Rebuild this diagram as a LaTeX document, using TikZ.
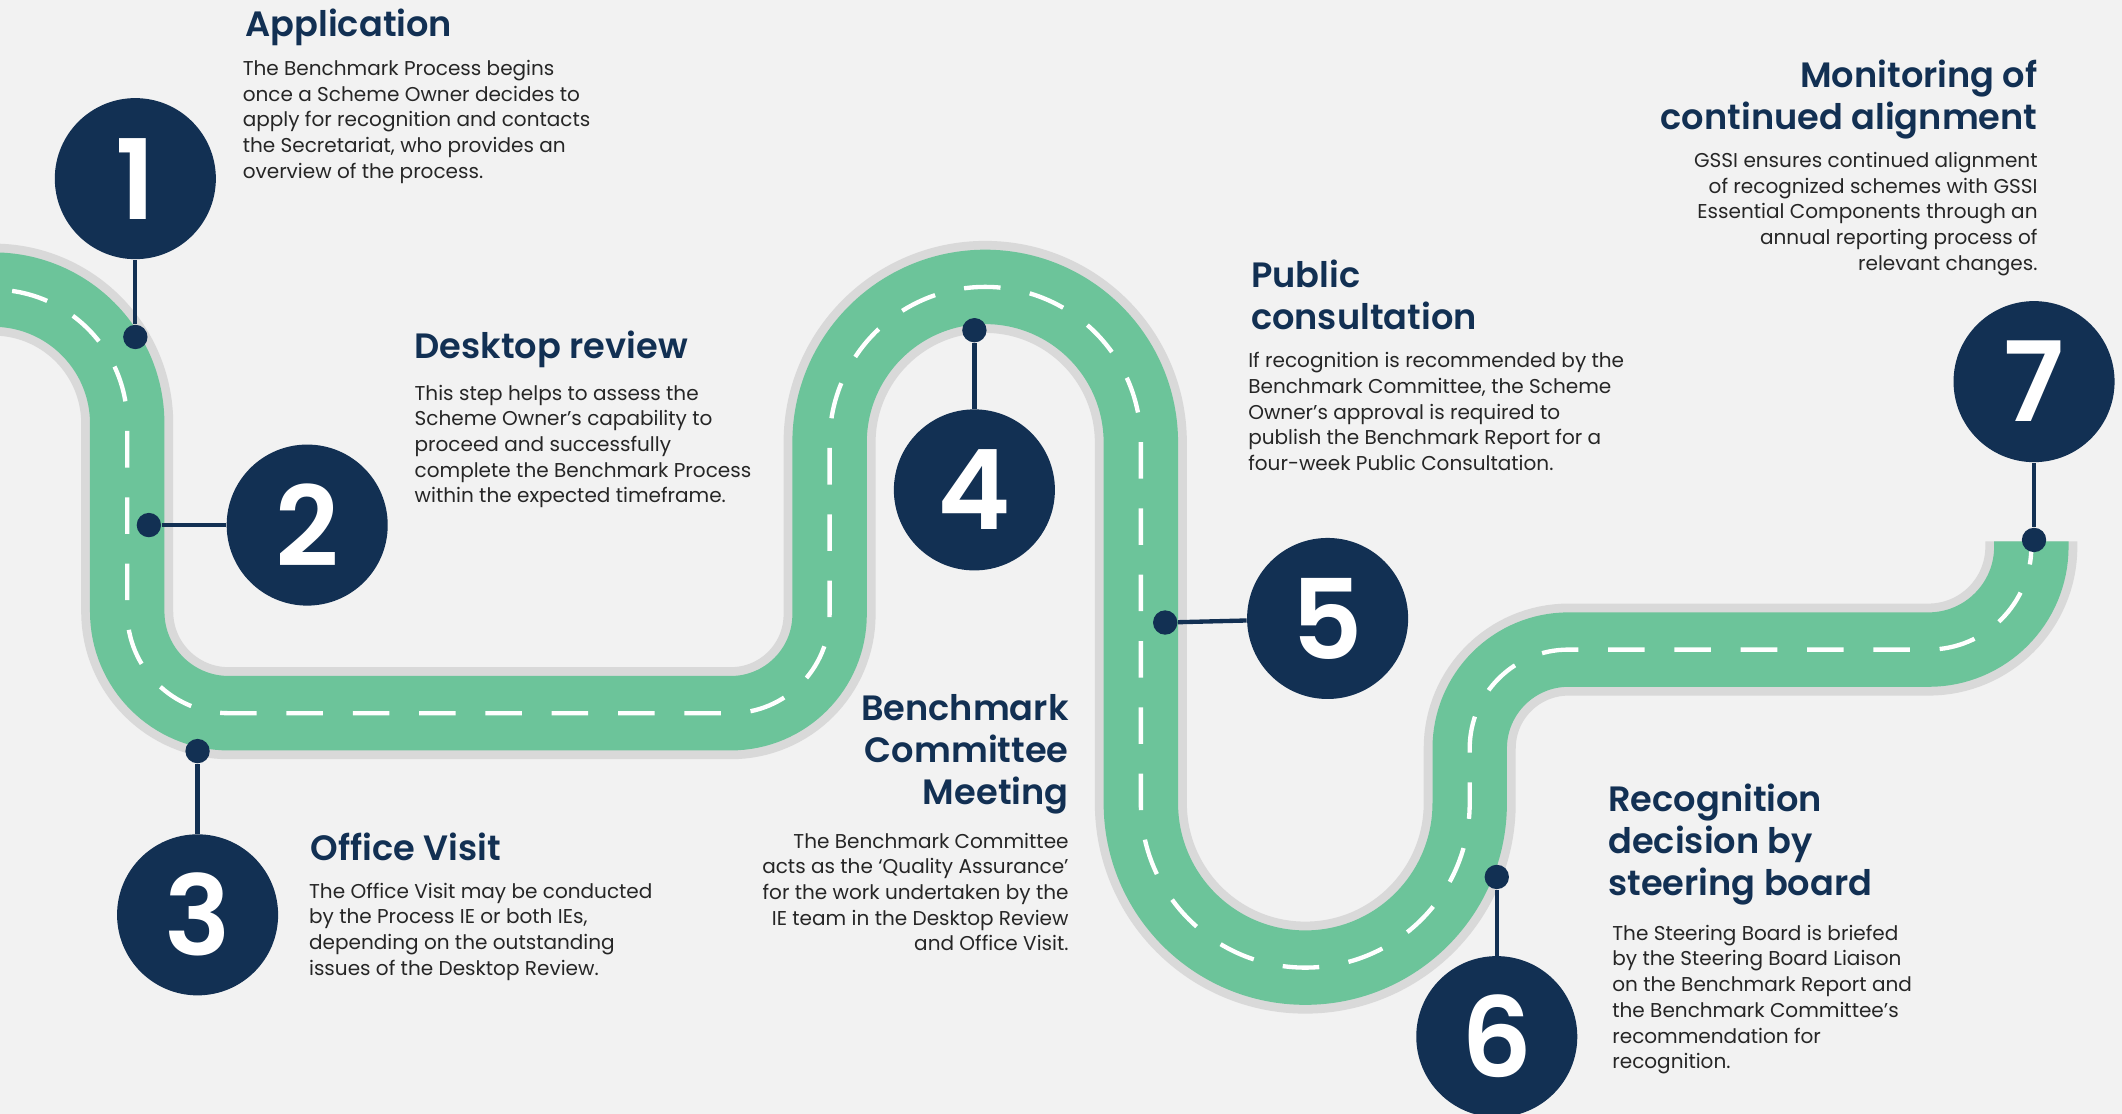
\documentclass[tikz,border=0pt]{standalone}
\usepackage{fontspec}
\setmainfont{Poppins}[BoldFont={Poppins SemiBold}]
\definecolor{navy}{HTML}{123053}
\definecolor{road}{HTML}{6CC49A}
\definecolor{kerb}{HTML}{D9D9D9}
\definecolor{paper}{HTML}{F2F2F2}
\definecolor{ink}{HTML}{262626}

\begin{document}
\begin{tikzpicture}[
        x=0.5pt, y=-0.5pt,
        roadway/.style={line width=34pt, draw=kerb,
            postaction={draw=road, line width=27.5pt},
            postaction={draw=white, line width=1.6pt, dash pattern=on 13.5pt off 11pt}},
        numdisc/.style={circle, fill=navy, text=white, minimum size=59.5pt, inner sep=0pt,
            font=\fontsize{41}{41}\selectfont\bfseries},
        roaddot/.style={circle, fill=navy, minimum size=9pt, inner sep=0pt},
        link/.style={navy, line width=1.6pt},
        head/.style={text=navy, inner sep=0pt, font=\fontsize{13}{15.5}\selectfont\bfseries},
        body/.style={text=ink, inner sep=0pt, font=\fontsize{7.4}{9.5}\selectfont}
    ]
    \fill[paper] (0,0) rectangle (1568,823);
    \useasboundingbox (0,0) rectangle (1568,823);

    \begin{scope}
        \clip (0,0) rectangle (1568,823);
        \draw[roadway] (-40,214) -- (-5,214) arc[start angle=270, end angle=360, radius=99]
            -- (94,452) arc[start angle=180, end angle=90, radius=75]
            -- (540,527) arc[start angle=90, end angle=0, radius=73]
            -- (613,327) arc[start angle=180, end angle=360, radius=115]
            -- (843,593.5) arc[start angle=180, end angle=0, radius=121.5]
            -- (1086,553) arc[start angle=180, end angle=270, radius=73]
            -- (1425,480) arc[start angle=90, end angle=0, radius=76]
            -- (1501,400);
    \end{scope}

    \node[numdisc] (c1) at (100,132) {1};
    \node[numdisc] (c2) at (227,388) {2};
    \node[numdisc] (c3) at (146,676) {3};
    \node[numdisc] (c4) at (720,362) {4};
    \node[numdisc] (c5) at (981,457) {5};
    \node[numdisc] (c6) at (1106,766) {6};
    \node[numdisc] (c7) at (1503,282) {7};

    \node[roaddot] (d1) at (100,249) {};
    \node[roaddot] (d2) at (110,388) {};
    \node[roaddot] (d3) at (146,555) {};
    \node[roaddot] (d4) at (720,244) {};
    \node[roaddot] (d5) at (861,460) {};
    \node[roaddot] (d6) at (1106,648) {};
    \node[roaddot] (d7) at (1503,399) {};

    \draw[link] (d1) -- (c1);
    \draw[link] (d2) -- (c2);
    \draw[link] (d3) -- (c3);
    \draw[link] (d4) -- (c4);
    \draw[link] (d5) -- (c5);
    \draw[link] (d6) -- (c6);
    \draw[link] (d7) -- (c7);

    \node[head, anchor=north west] (h1) at (181,6) {Application};
    \node[body, anchor=north west, align=left] (b1) at (179,44) {The Benchmark Process begins\\once a Scheme Owner decides to\\apply for recognition and contacts\\the Secretariat, who provides an\\overview of the process.};

    \node[head, anchor=north west] (h2) at (306,244) {Desktop review};
    \node[body, anchor=north west, align=left] (b2) at (306,284) {This step helps to assess the\\Scheme Owner’s capability to\\proceed and successfully\\complete the Benchmark Process\\within the expected timeframe.};

    \node[head, anchor=north west] (h3) at (229,615) {Office Visit};
    \node[body, anchor=north west, align=left] (b3) at (228,652) {The Office Visit may be conducted\\by the Process IE or both IEs,\\depending on the outstanding\\issues of the Desktop Review.};

    \node[head, anchor=north east, align=right] (h4) at (790,513) {Benchmark\\Committee\\Meeting};
    \node[body, anchor=north east, align=right] (b4) at (790,615) {The Benchmark Committee\\acts as the ‘Quality Assurance’\\for the work undertaken by the\\IE team in the Desktop Review\\and Office Visit.};

    \node[head, anchor=north west, align=left] (h5) at (924,192) {Public\\consultation};
    \node[body, anchor=north west, align=left] (b5) at (922,260) {If recognition is recommended by the\\Benchmark Committee, the Scheme\\Owner’s approval is required to\\publish the Benchmark Report for a\\four-week Public Consultation.};

    \node[head, anchor=north west, align=left] (h6) at (1188,579) {Recognition\\decision by\\steering board};
    \node[body, anchor=north west, align=left] (b6) at (1191,683) {The Steering Board is briefed\\by the Steering Board Liaison\\on the Benchmark Report and\\the Benchmark Committee’s\\recommendation for\\recognition.};

    \node[head, anchor=north east, align=right] (h7) at (1506,44) {Monitoring of\\continued alignment};
    \node[body, anchor=north east, align=right] (b7) at (1506,112) {GSSI ensures continued alignment\\of recognized schemes with GSSI\\Essential Components through an\\annual reporting process of\\relevant changes.};
\end{tikzpicture}
\end{document}
